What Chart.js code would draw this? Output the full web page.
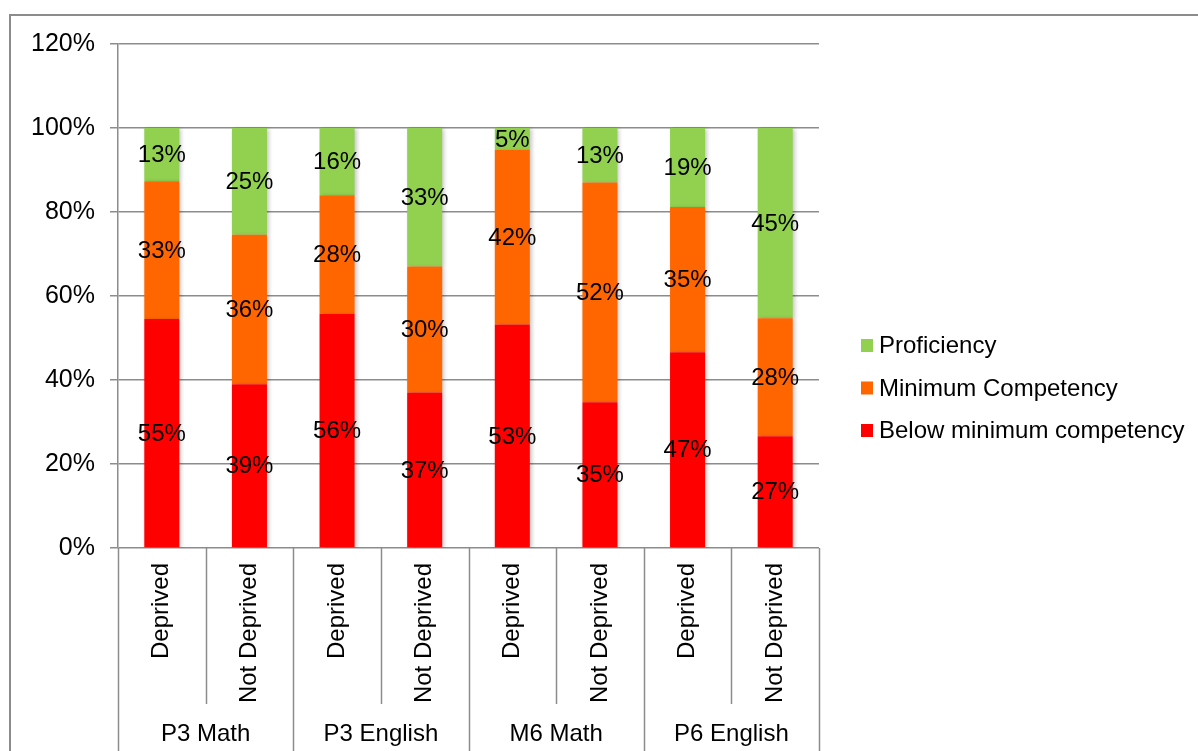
<!DOCTYPE html>
<html>
<head>
<meta charset="utf-8">
<script src="https://cdn.jsdelivr.net/npm/chart.js@4.4.0/dist/chart.umd.min.js"></script>
<style>
  html, body { margin: 0; padding: 0; background: #fff; }
  #wrap { position: relative; width: 1198px; height: 751px; overflow: hidden; }
  #frame { position: absolute; left: 9px; top: 14px; right: 0; bottom: -10px;
           border-left: 2px solid #8c8c8c; border-top: 2px solid #8c8c8c; }
  canvas { position: absolute; left: 0; top: 0; }
</style>
</head>
<body>
<div id="wrap">
  <div id="frame"></div>
  <canvas id="chart" width="1198" height="751"></canvas>
</div>
<script>
// subjects (outer axis row) and deprivation status (inner axis row)
const subjects = ['P3 Math', 'P3 English', 'M6 Math', 'P6 English'];
const categoryLabels = ['Deprived', 'Not Deprived', 'Deprived', 'Not Deprived',
                        'Deprived', 'Not Deprived', 'Deprived', 'Not Deprived'];

// share of pupils in each band, percent
const belowMinimum = [54.5, 39.0, 55.8, 37.0, 53.2, 34.7, 46.6, 26.6];
const minimumCompetency = [32.8, 35.6, 28.2, 30.0, 41.6, 52.3, 34.6, 28.1];
const proficiency = [12.7, 25.4, 16.0, 33.0, 5.2, 13.0, 18.8, 45.3];

const yTicks = [0, 20, 40, 60, 80, 100, 120];

const axisColor = '#8c8c8c';
const font = { family: '"Liberation Sans", Arial, sans-serif', size: 24 };

Chart.defaults.font.family = font.family;
Chart.defaults.color = '#000';

// soft drop shadow on bars, then the value labels centred in each segment
const barLabels = {
  id: 'barLabels',
  beforeDatasetsDraw(chart) {
    const ctx = chart.ctx;
    ctx.save();
    ctx.shadowColor = 'rgba(0,0,0,0.22)';
    ctx.shadowBlur = 4;
    ctx.shadowOffsetX = 2;
    ctx.shadowOffsetY = 1;
  },
  afterDatasetsDraw(chart) {
    const ctx = chart.ctx;
    ctx.restore();
    ctx.save();
    ctx.font = `${font.size}px ${font.family}`;
    ctx.fillStyle = '#000';
    ctx.textAlign = 'center';
    ctx.textBaseline = 'middle';
    chart.data.datasets.forEach((ds, d) => {
      const meta = chart.getDatasetMeta(d);
      meta.data.forEach((bar, i) => {
        const { x, y, base } = bar.getProps(['x', 'y', 'base'], true);
        ctx.fillText(Math.round(ds.data[i]) + '%', x, (y + base) / 2 + 1);
      });
    });
    ctx.restore();
  }
};

// two-level category axis: divider lines and subject names under the rotated labels
const groupAxis = {
  id: 'groupAxis',
  afterDraw(chart) {
    const ctx = chart.ctx;
    const xs = chart.scales.x;
    const n = categoryLabels.length;
    const half = (xs.getPixelForValue(1) - xs.getPixelForValue(0)) / 2;
    const edge = i => (i < n ? xs.getPixelForValue(i) - half : xs.getPixelForValue(n - 1) + half);
    ctx.save();
    ctx.strokeStyle = axisColor;
    ctx.lineWidth = 1.5;
    for (let i = 0; i <= n; i++) {
      const px = Math.round(edge(i)) + 0.5;
      ctx.beginPath();
      ctx.moveTo(px, xs.top);
      ctx.lineTo(px, i % 2 === 0 ? chart.height : xs.top + 156);
      ctx.stroke();
    }
    ctx.font = `${font.size}px ${font.family}`;
    ctx.fillStyle = '#000';
    ctx.textAlign = 'center';
    ctx.textBaseline = 'middle';
    subjects.forEach((s, g) => {
      ctx.fillText(s, (edge(g * 2) + edge(g * 2 + 2)) / 2, 734);
    });
    ctx.restore();
  }
};

// legend on the right, top series first
const sideLegend = {
  id: 'sideLegend',
  afterDraw(chart) {
    const ctx = chart.ctx;
    const items = chart.data.datasets.slice().reverse();
    ctx.save();
    ctx.font = `${font.size}px ${font.family}`;
    ctx.textAlign = 'left';
    ctx.textBaseline = 'middle';
    items.forEach((ds, k) => {
      const cy = 345.5 + k * 42.5;
      ctx.fillStyle = ds.backgroundColor;
      ctx.fillRect(861, cy - 6.5, 12, 13);
      ctx.fillStyle = '#000';
      ctx.fillText(ds.label, 879, cy + 1);
    });
    ctx.restore();
  }
};

new Chart(document.getElementById('chart'), {
  type: 'bar',
  data: {
    labels: categoryLabels,
    datasets: [
      { label: 'Below minimum competency', data: belowMinimum, backgroundColor: '#ff0000' },
      { label: 'Minimum Competency', data: minimumCompetency, backgroundColor: '#ff6600' },
      { label: 'Proficiency', data: proficiency, backgroundColor: '#92d050' }
    ]
  },
  options: {
    responsive: false,
    animation: false,
    layout: { padding: { top: 44, right: 379, left: 0, bottom: 0 } },
    datasets: { bar: { categoryPercentage: 1, barPercentage: 0.4 } },
    plugins: {
      legend: { display: false },
      tooltip: { enabled: false }
    },
    scales: {
      x: {
        stacked: true,
        afterFit: s => { s.height = 203; },
        grid: { display: false },
        border: { display: false },
        ticks: { minRotation: 90, maxRotation: 90, autoSkip: false, padding: 7, font, color: '#000' }
      },
      y: {
        stacked: true,
        min: 0,
        max: 120,
        afterFit: s => { s.width = 118; },
        afterBuildTicks: s => { s.ticks = yTicks.map(v => ({ value: v })); },
        grid: { color: axisColor, lineWidth: 1.5, tickLength: 8 },
        border: { color: axisColor, width: 1.5 },
        ticks: { padding: 15, font: { family: font.family, size: 25 }, color: '#000', callback: v => v + '%' }
      }
    }
  },
  plugins: [barLabels, groupAxis, sideLegend]
});
</script>
</body>
</html>
